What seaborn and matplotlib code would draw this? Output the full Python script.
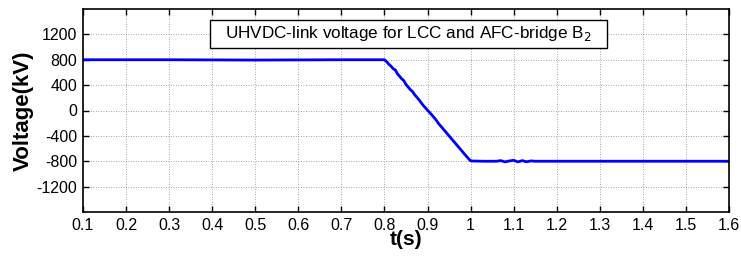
import matplotlib
matplotlib.use("Agg")
import matplotlib.pyplot as plt
import seaborn as sns
import pandas as pd
from matplotlib.patches import Rectangle

# values
t = [0.1, 0.3, 0.5, 0.7, 0.8, 0.805, 0.81, 0.815, 0.82, 0.825, 0.83, 0.84, 0.845,
     0.85, 0.86, 0.865, 0.87, 0.88, 0.89, 0.9, 0.91, 0.92, 0.925, 0.93, 0.94,
     0.95, 0.96, 0.97, 0.98, 0.99, 1.0, 1.03, 1.06, 1.07, 1.08, 1.09, 1.1,
     1.11, 1.12, 1.13, 1.14, 1.15, 1.2, 1.4, 1.6]
v = [800, 800, 795, 800, 800, 770, 730, 700, 660, 640, 580, 500, 470,
     410, 330, 300, 250, 170, 80, 5, -70, -150, -200, -240, -320,
     -400, -480, -560, -640, -720, -795, -800, -800, -790, -810, -795, -785,
     -810, -790, -808, -795, -800, -800, -800, -800]

ticks_x = [0.1, 0.2, 0.3, 0.4, 0.5, 0.6, 0.7, 0.8, 0.9, 1, 1.1, 1.2, 1.3, 1.4, 1.5, 1.6]
tick_x_labels = ["0.1", "0.2", "0.3", "0.4", "0.5", "0.6", "0.7", "0.8", "0.9", "1",
                 "1.1", "1.2", "1.3", "1.4", "1.5", "1.6"]
ticks_y = [-1200, -800, -400, 0, 400, 800, 1200]

df = pd.DataFrame({"t": t, "v": v})

sns.set_style("ticks")
plt.rcParams["font.family"] = ["Liberation Sans", "DejaVu Sans"]
plt.rcParams["text.color"] = "black"
plt.rcParams["axes.labelcolor"] = "black"
plt.rcParams["xtick.color"] = "black"
plt.rcParams["ytick.color"] = "black"
plt.rcParams["axes.unicode_minus"] = False

fig = plt.figure(figsize=(7.41, 2.56), dpi=100)
ax = fig.add_axes([83 / 741, 1 - 212 / 256, (729 - 83) / 741, (212 - 9) / 256])

sns.lineplot(data=df, x="t", y="v", ax=ax, color="#0000ff", linewidth=2)

ax.set_xlim(0.1, 1.6)
ax.set_ylim(-1600, 1600)
ax.set_xticks(ticks_x)
ax.set_xticklabels(tick_x_labels)
ax.set_yticks(ticks_y)
ax.tick_params(direction="in", top=True, right=True, labelsize=11.5, length=4,
               width=1, pad=4)
ax.grid(True, linestyle=(0, (1, 2)), color="#888888", linewidth=0.6)
for s in ax.spines.values():
    s.set_linewidth(1.2)
    s.set_color("black")

ax.set_xlabel("t(s)", fontsize=15, fontweight="bold", labelpad=-2)
ax.set_ylabel("Voltage(kV)", fontsize=16, fontweight="bold", labelpad=2)

# title box, drawn in axes fraction
ax.add_patch(Rectangle((0.197, 0.808), 0.614, 0.138, transform=ax.transAxes,
                       facecolor="white", edgecolor="black", linewidth=1, zorder=5))
ax.text(0.504, 0.877, "UHVDC-link voltage for LCC and AFC-bridge B$_2$",
        transform=ax.transAxes, ha="center", va="center", fontsize=12.3, zorder=6)

fig.savefig("out.png", dpi=100)
